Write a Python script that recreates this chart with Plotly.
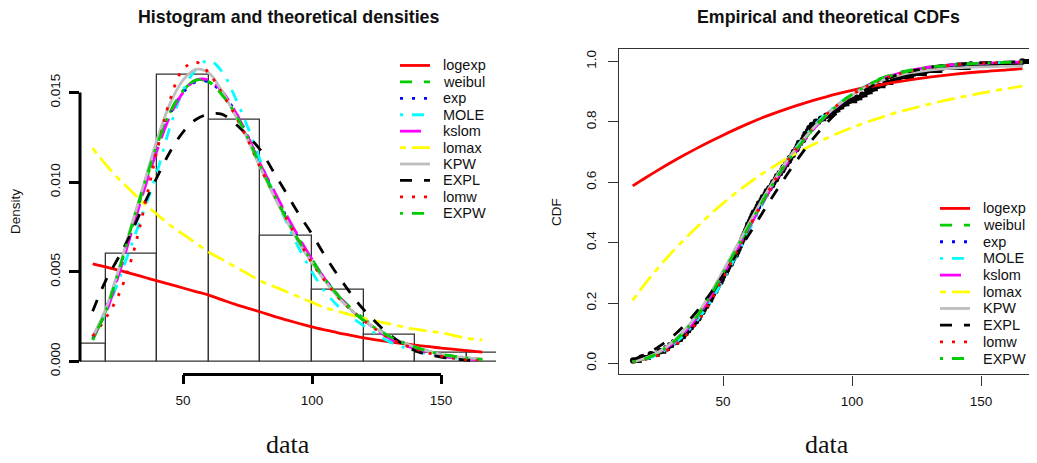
import plotly.graph_objects as go

# page body has an 8px default margin, so the figure is laid out 8px smaller
OFF = 8
W, H = 1037 - OFF, 463 - OFF

# ---------------- data ----------------
# observed sample (sorted), estimated from histogram + empirical CDF
sample = [15.2, 18.5,
          22.0, 25.5, 28.0, 29.5, 31.0, 33.0, 34.5, 35.5, 36.5, 37.5, 38.5, 39.5,
          40.5, 41.0, 42.0, 42.5, 43.5, 44.0, 45.0, 45.5, 46.0, 47.0, 47.5, 48.0, 49.0, 49.5, 50.0,
          51.0, 51.5, 52.0, 53.0, 53.5, 54.0, 55.0, 55.5, 56.0, 56.5, 57.0, 57.5, 58.0, 58.5, 59.0, 59.5, 59.8,
          60.5, 61.0, 61.5, 62.0, 63.0, 63.5, 64.0, 65.0, 65.5, 66.5, 67.0, 68.0, 69.0, 69.5,
          70.5, 71.0, 72.0, 73.0, 73.5, 74.5, 75.5, 76.0, 77.0, 77.5, 78.5, 79.0, 79.5,
          81.0, 81.5, 82.0, 83.0, 83.5, 84.5, 86.0, 88.0, 90.0, 92.0, 94.0, 95.5, 97.0, 99.0,
          102.0, 104.0, 106.0, 108.0, 110.0, 113.0, 116.0, 119.0,
          124.0, 129.0, 135.0, 146.0, 166.0]

xgrid = [15, 20, 25, 30, 35, 40, 45, 50, 55, 60, 65, 70, 75, 80, 85, 90, 95, 100,
         105, 110, 115, 120, 130, 140, 150, 160, 166]

models = ["logexp", "weibul", "exp", "MOLE", "kslom", "lomax", "KPW", "EXPL", "lomw", "EXPW"]

pdf_logexp = [0.00545, 0.00528, 0.00509, 0.00490, 0.00470, 0.00450, 0.00430, 0.00410, 0.00390, 0.00370,
              0.00345, 0.00320, 0.00298, 0.00276, 0.00253, 0.00232, 0.00212, 0.00193, 0.00176, 0.00160,
              0.00146, 0.00132, 0.00110, 0.00091, 0.00075, 0.00060, 0.00052]
pdf_weibul = [0.0012, 0.0028, 0.0050, 0.0074, 0.0098, 0.0120, 0.0139, 0.0151, 0.0157, 0.0156,
              0.0149, 0.0139, 0.0125, 0.0109, 0.0095, 0.0081, 0.0068, 0.0057, 0.0046, 0.0037,
              0.0030, 0.0024, 0.0014, 0.0008, 0.0004, 0.0002, 0.00012]
pdf_exp = [0.0013, 0.0029, 0.0050, 0.0074, 0.0098, 0.0120, 0.0138, 0.0150, 0.0156, 0.0156,
           0.0150, 0.0140, 0.0126, 0.0110, 0.0095, 0.0081, 0.0068, 0.0056, 0.0046, 0.0037,
           0.0029, 0.0023, 0.0014, 0.0008, 0.0004, 0.0002, 0.0001]
pdf_MOLE = [0.0014, 0.0027, 0.0045, 0.0065, 0.0085, 0.0106, 0.0131, 0.0151, 0.0163, 0.0168,
            0.0162, 0.0148, 0.0131, 0.0112, 0.0094, 0.0078, 0.0063, 0.0050, 0.0039, 0.0031,
            0.0025, 0.0020, 0.0011, 0.0006, 0.0003, 0.00013, 0.0001]
pdf_kslom = [0.0014, 0.0027, 0.0048, 0.0072, 0.0096, 0.0118, 0.0137, 0.0150, 0.0157, 0.0157,
             0.0151, 0.0140, 0.0126, 0.0110, 0.0096, 0.0082, 0.0069, 0.0057, 0.0046, 0.0037,
             0.0029, 0.0023, 0.0013, 0.0007, 0.0003, 0.00015, 0.0001]
pdf_lomax = [0.0119, 0.0110, 0.0102, 0.0095, 0.0088, 0.0082, 0.0076, 0.0071, 0.0066, 0.0061,
             0.0057, 0.0053, 0.0049, 0.0045, 0.0042, 0.0039, 0.0036, 0.0033, 0.0030, 0.0028,
             0.0026, 0.0024, 0.0021, 0.0018, 0.0016, 0.0013, 0.0012]
pdf_KPW = [0.0014, 0.0029, 0.0051, 0.0076, 0.0100, 0.0124, 0.0144, 0.0157, 0.0163, 0.0161,
           0.0151, 0.0138, 0.0124, 0.0108, 0.0093, 0.0079, 0.0066, 0.0055, 0.0045, 0.0036,
           0.0029, 0.0023, 0.0014, 0.0008, 0.0004, 0.0002, 0.00015]
pdf_EXPL = [0.0028, 0.0045, 0.0058, 0.0072, 0.0088, 0.0103, 0.0117, 0.0128, 0.0135, 0.0138,
            0.0138, 0.0133, 0.0126, 0.0118, 0.0106, 0.0094, 0.0082, 0.0071, 0.0059, 0.0048,
            0.0038, 0.0029, 0.0015, 0.0006, 0.00025, 0.00008, 0.00004]
pdf_lomw = [0.0014, 0.0024, 0.0037, 0.0057, 0.0086, 0.0118, 0.0146, 0.0163, 0.0167, 0.0161,
            0.0150, 0.0138, 0.0124, 0.0108, 0.0094, 0.0080, 0.0067, 0.0055, 0.0045, 0.0036,
            0.0029, 0.0023, 0.0013, 0.0007, 0.0003, 0.0001, 0.00008]
pdf_EXPW = [0.0012, 0.0028, 0.0050, 0.0075, 0.0099, 0.0121, 0.0139, 0.0151, 0.0157, 0.0156,
            0.0149, 0.0139, 0.0125, 0.0109, 0.0094, 0.0080, 0.0067, 0.0056, 0.0046, 0.0037,
            0.0029, 0.0023, 0.0014, 0.0008, 0.0004, 0.0002, 0.0001]

cdf_logexp = [0.588, 0.615, 0.641, 0.666, 0.690, 0.713, 0.735, 0.756, 0.776, 0.795,
              0.813, 0.829, 0.844, 0.858, 0.871, 0.883, 0.894, 0.904, 0.913, 0.921,
              0.929, 0.936, 0.948, 0.958, 0.966, 0.972, 0.976]
cdf_weibul = [0.005, 0.016, 0.035, 0.064, 0.105, 0.155, 0.222, 0.298, 0.375, 0.453,
              0.530, 0.603, 0.668, 0.725, 0.777, 0.822, 0.860, 0.892, 0.916, 0.940,
              0.955, 0.967, 0.982, 0.990, 0.994, 0.997, 0.998]
cdf_exp = [0.005, 0.016, 0.035, 0.064, 0.104, 0.154, 0.220, 0.296, 0.373, 0.451,
           0.529, 0.602, 0.667, 0.724, 0.776, 0.821, 0.858, 0.890, 0.915, 0.937,
           0.953, 0.965, 0.981, 0.989, 0.994, 0.997, 0.998]
cdf_MOLE = [0.004, 0.014, 0.031, 0.058, 0.095, 0.143, 0.203, 0.275, 0.355, 0.438,
            0.522, 0.603, 0.673, 0.734, 0.785, 0.827, 0.862, 0.891, 0.914, 0.935,
            0.952, 0.964, 0.980, 0.989, 0.994, 0.997, 0.998]
cdf_kslom = [0.006, 0.017, 0.035, 0.063, 0.102, 0.152, 0.218, 0.293, 0.370, 0.448,
             0.526, 0.600, 0.665, 0.723, 0.775, 0.820, 0.857, 0.889, 0.914, 0.936,
             0.952, 0.965, 0.981, 0.990, 0.994, 0.997, 0.998]
cdf_lomax = [0.209, 0.266, 0.318, 0.366, 0.411, 0.453, 0.493, 0.530, 0.565, 0.597,
             0.627, 0.654, 0.680, 0.703, 0.725, 0.745, 0.764, 0.781, 0.797, 0.811,
             0.825, 0.837, 0.859, 0.878, 0.895, 0.910, 0.918]
cdf_KPW = [0.006, 0.018, 0.038, 0.068, 0.110, 0.162, 0.230, 0.306, 0.384, 0.463,
           0.540, 0.610, 0.674, 0.730, 0.780, 0.823, 0.859, 0.889, 0.913, 0.932,
           0.947, 0.958, 0.971, 0.978, 0.982, 0.984, 0.985]
cdf_EXPL = [0.012, 0.030, 0.055, 0.086, 0.126, 0.174, 0.230, 0.292, 0.358, 0.426,
            0.495, 0.563, 0.628, 0.689, 0.745, 0.795, 0.838, 0.875, 0.905, 0.929,
            0.948, 0.962, 0.980, 0.991, 0.996, 0.998, 0.999]
cdf_lomw = [0.004, 0.013, 0.028, 0.051, 0.087, 0.137, 0.204, 0.282, 0.365, 0.449,
            0.530, 0.605, 0.671, 0.729, 0.780, 0.824, 0.860, 0.890, 0.914, 0.935,
            0.951, 0.963, 0.979, 0.989, 0.994, 0.997, 0.998]
cdf_EXPW = [0.005, 0.016, 0.035, 0.065, 0.106, 0.157, 0.223, 0.299, 0.376, 0.454,
            0.531, 0.604, 0.668, 0.725, 0.777, 0.822, 0.859, 0.891, 0.916, 0.938,
            0.953, 0.965, 0.981, 0.990, 0.994, 0.997, 0.998]

pdfs = [pdf_logexp, pdf_weibul, pdf_exp, pdf_MOLE, pdf_kslom, pdf_lomax, pdf_KPW, pdf_EXPL, pdf_lomw, pdf_EXPW]
cdfs = [cdf_logexp, cdf_weibul, cdf_exp, cdf_MOLE, cdf_kslom, cdf_lomax, cdf_KPW, cdf_EXPL, cdf_lomw, cdf_EXPW]

dens_ticks = [0, 0.005, 0.010, 0.015]
dens_ticktext = ["0.000", "0.005", "0.010", "0.015"]
cdf_ticks = [0, 0.2, 0.4, 0.6, 0.8, 1.0]
cdf_ticktext = ["0.0", "0.2", "0.4", "0.6", "0.8", "1.0"]
x_ticks = [50, 100, 150]

# ---------------- styles ----------------
colors = ["#FF0000", "#00CD00", "#0000FF", "#00FFFF", "#FF00FF", "#FFFF00",
          "#BEBEBE", "#000000", "#FF0000", "#00CD00"]
dashes = ["solid", "12px,12px", "3px,9px", "3px,9px,12px,9px", "21px,9px",
          "6px,6px,18px,6px", "solid", "12px,12px", "3px,9px", "3px,9px,12px,9px"]
LW = 2.8
SANS = "Liberation Sans, Arial, Helvetica, sans-serif"
SERIF = "Liberation Serif, Times New Roman, serif"


def PX(x):  # window pixel -> paper fraction
    return (x - OFF) / W


def PY(y):
    return 1 - (y - OFF) / H


# axis ranges (R style extended ranges) and pixel domains
x1_range = [10.08, 171.3]
y1_range = [-0.00072, 0.017444]
x2_range = [9.69, 170.9]
y2_range = [-0.0363, 1.0419]
ydom = [PY(376), PY(49)]

fig = go.Figure()

# histogram
fig.add_trace(go.Histogram(
    x=sample, xbins=dict(start=0, end=180, size=20), histnorm="probability density",
    marker=dict(color="white", line=dict(color="#333333", width=1.3)),
    xaxis="x", yaxis="y", showlegend=False, hoverinfo="skip"))

for name, col, dsh, ys in zip(models, colors, dashes, pdfs):
    fig.add_trace(go.Scatter(x=xgrid, y=ys, mode="lines", name=name, showlegend=False,
                             line=dict(color=col, width=LW, dash=dsh, shape="spline"),
                             xaxis="x", yaxis="y"))

# empirical CDF (horizontal steps + points)
n = len(sample)
sx, sy = [], []
for i, v in enumerate(sample):
    nxt = sample[i + 1] if i + 1 < n else x2_range[1]
    sx += [v, nxt, None]
    sy += [(i + 1) / n, (i + 1) / n, None]
fig.add_trace(go.Scatter(x=sx, y=sy, mode="lines", line=dict(color="black", width=5),
                         xaxis="x2", yaxis="y2", showlegend=False, hoverinfo="skip"))
fig.add_trace(go.Scatter(x=sample, y=[(i + 1) / n for i in range(n)], mode="markers",
                         marker=dict(color="black", size=6.5),
                         xaxis="x2", yaxis="y2", showlegend=False, hoverinfo="skip"))

for name, col, dsh, ys in zip(models, colors, dashes, cdfs):
    fig.add_trace(go.Scatter(x=xgrid, y=ys, mode="lines", name=name, showlegend=False,
                             line=dict(color=col, width=LW, dash=dsh, shape="spline"),
                             xaxis="x2", yaxis="y2"))

shapes = []
# left panel: R-style detached axes
y0f = (0 - y1_range[0]) / (y1_range[1] - y1_range[0])
y15f = (0.015 - y1_range[0]) / (y1_range[1] - y1_range[0])
shapes.append(dict(type="line", xref="x domain", yref="y domain", x0=0, x1=0, y0=y0f, y1=y15f,
                   line=dict(color="black", width=3)))
x50f = (50 - x1_range[0]) / (x1_range[1] - x1_range[0])
x150f = (150 - x1_range[0]) / (x1_range[1] - x1_range[0])
shapes.append(dict(type="line", xref="x domain", yref="y domain", x0=x50f, x1=x150f, y0=0, y1=0,
                   line=dict(color="black", width=3)))

annotations = []


def add_legend(x_line0, x_text, y_first, step):
    for i, (name, col, dsh) in enumerate(zip(models, colors, dashes)):
        yy = PY(y_first + step * i)
        shapes.append(dict(type="line", xref="paper", yref="paper",
                           x0=PX(x_line0), x1=PX(x_line0 + 30), y0=yy, y1=yy,
                           line=dict(color=col, width=LW, dash=dsh)))
        annotations.append(dict(xref="paper", yref="paper", x=PX(x_text), y=yy, text=name,
                                showarrow=False, xanchor="left", yanchor="middle",
                                font=dict(family=SANS, size=14.5, color="#111111")))


add_legend(400, 441, 65.7, 16.5)
add_legend(940, 981, 209.3, 16.75)


def txt(x, y, s, size, family=SANS, angle=0, bold=False):
    annotations.append(dict(xref="paper", yref="paper", x=PX(x), y=PY(y),
                            text=f"<b>{s}</b>" if bold else s, showarrow=False,
                            xanchor="center", yanchor="middle", textangle=angle,
                            font=dict(family=family, size=size, color="#111111")))


txt(288, 17, "Histogram and theoretical densities", 17.8, bold=True)
txt(828, 17, "Empirical and theoretical CDFs", 17.8, bold=True)
txt(15, 213, "Density", 13.5, angle=-90)
txt(556, 213, "CDF", 13.5, angle=-90)
txt(288, 446, "data", 26, family=SERIF)
txt(827, 446, "data", 26, family=SERIF)

tickfont = dict(family=SANS, size=13.5, color="#111111")
fig.update_layout(
    width=W, height=H, margin=dict(l=0, r=0, t=0, b=0),
    paper_bgcolor="white", plot_bgcolor="white", showlegend=False,
    bargap=0,
    shapes=shapes, annotations=annotations,
    xaxis=dict(domain=[PX(80), PX(496)], range=x1_range, anchor="y",
               tickvals=x_ticks, ticks="outside", ticklen=9, tickwidth=2.5, tickcolor="black",
               showline=False, showgrid=False, zeroline=False, tickfont=tickfont,
               ticklabelstandoff=4),
    yaxis=dict(domain=ydom, range=y1_range, anchor="x",
               tickvals=dens_ticks, ticktext=dens_ticktext, tickangle=-90,
               ticks="outside", ticklen=10, tickwidth=2.5, tickcolor="black",
               showline=False, showgrid=False, zeroline=False, tickfont=tickfont,
               ticklabelstandoff=4),
    xaxis2=dict(domain=[PX(619), PX(1035)], range=x2_range, anchor="y2",
                tickvals=x_ticks, ticks="outside", ticklen=10, tickwidth=1.3, tickcolor="#333333",
                showline=True, mirror=True, linecolor="#333333", linewidth=1.3,
                showgrid=False, zeroline=False, tickfont=tickfont, ticklabelstandoff=4),
    yaxis2=dict(domain=ydom, range=y2_range, anchor="x2",
                tickvals=cdf_ticks, ticktext=cdf_ticktext, tickangle=-90,
                ticks="outside", ticklen=10, tickwidth=1.3, tickcolor="#333333",
                showline=True, mirror=True, linecolor="#333333", linewidth=1.3,
                showgrid=False, zeroline=False, tickfont=tickfont, ticklabelstandoff=6),
)

fig.write_html("out.html")
